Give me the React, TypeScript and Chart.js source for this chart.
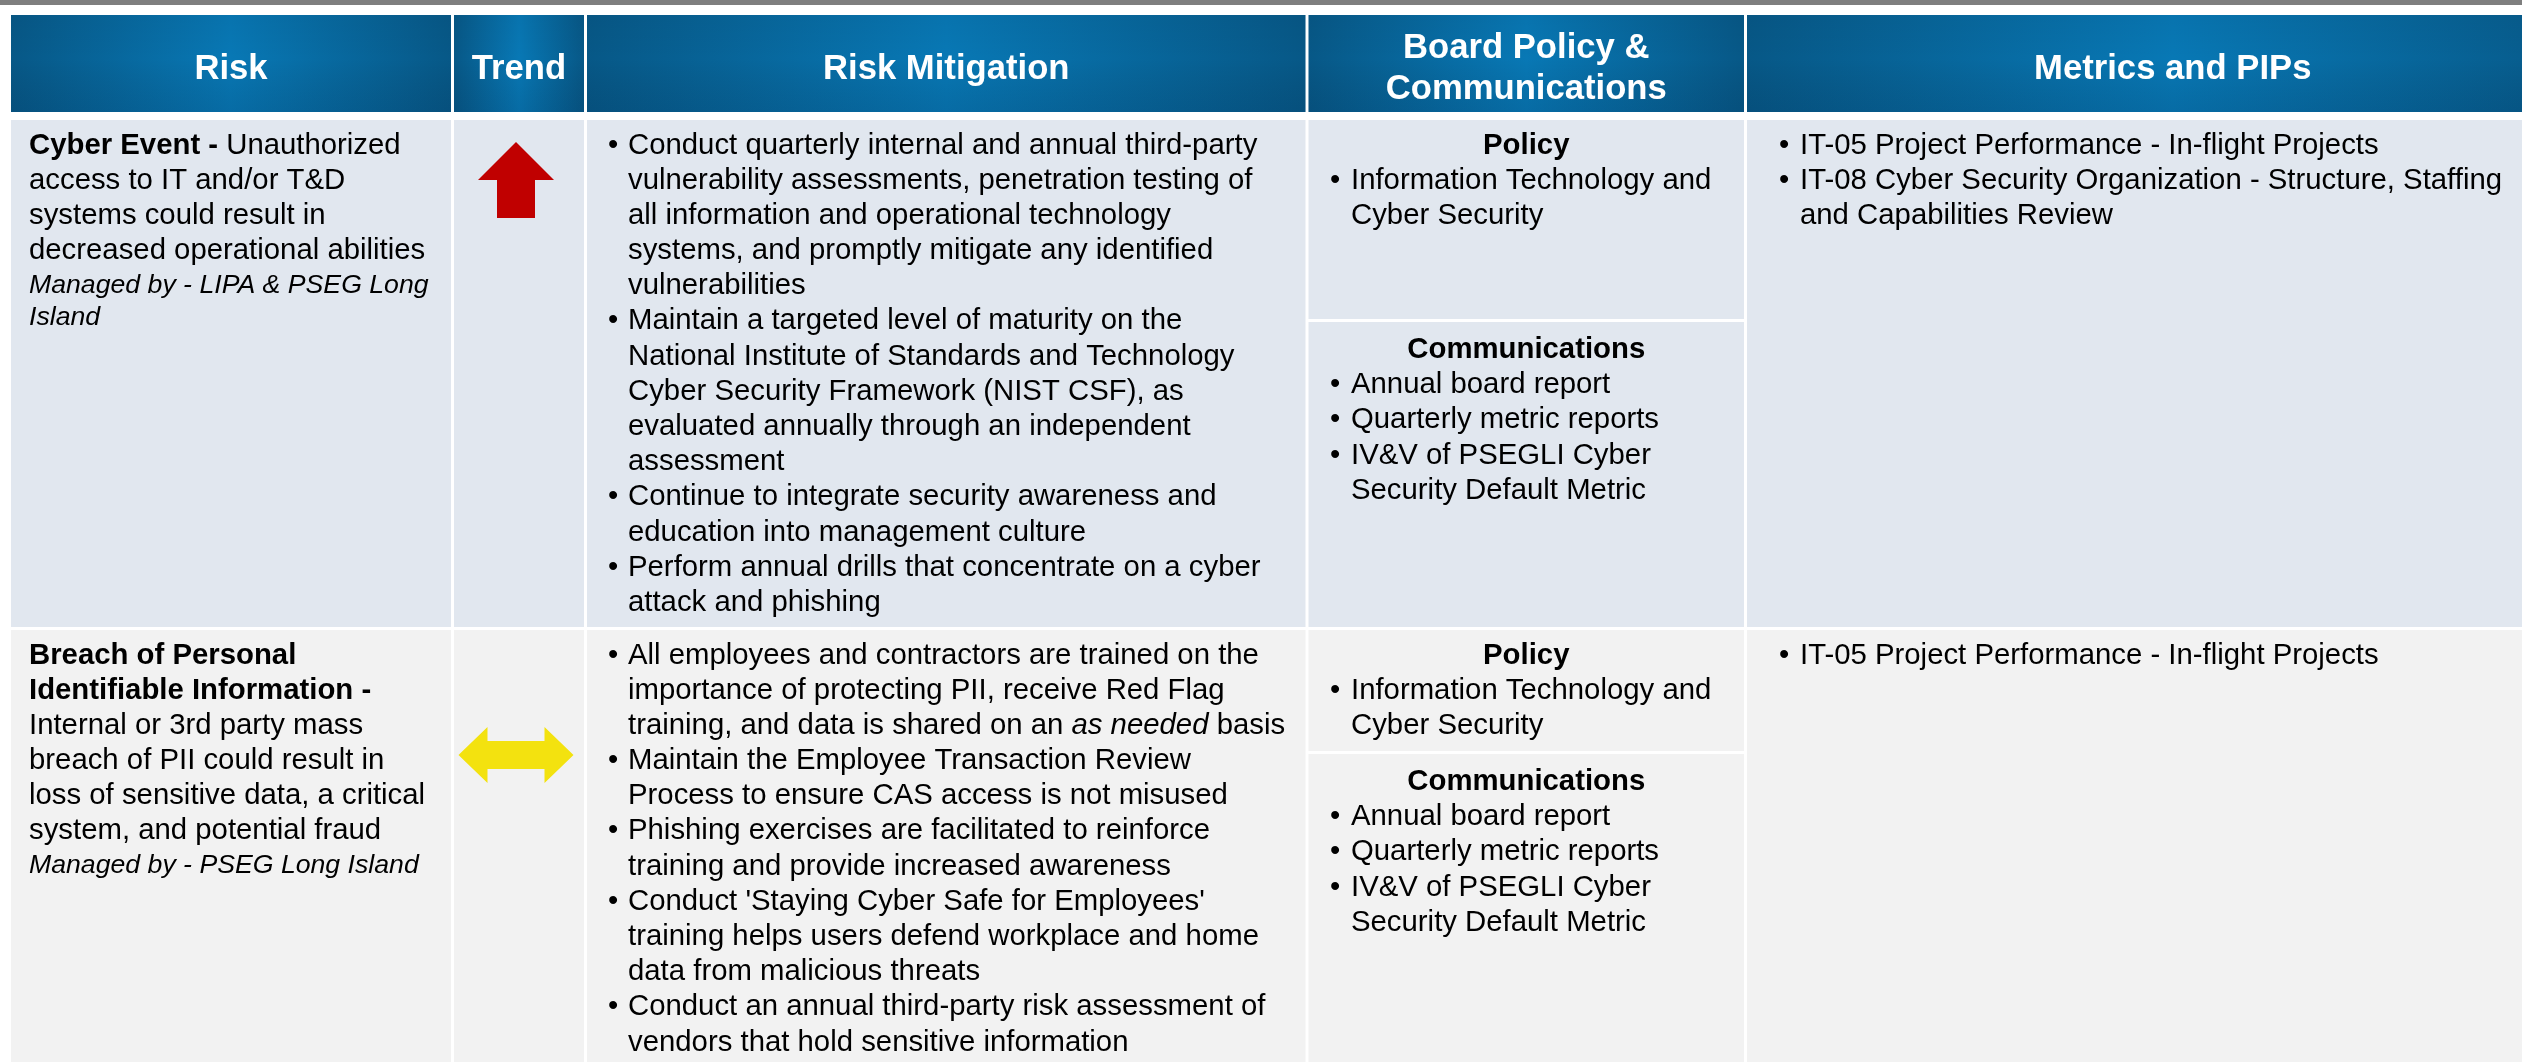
import React, { useEffect, useRef } from "react";
import { Chart, registerables } from "chart.js";

Chart.register(...registerables);

// ---------------- DATA ----------------
const columnHeaders = [
  "Risk",
  "Trend",
  "Risk Mitigation",
  "Board Policy &\nCommunications",
  "Metrics and PIPs",
];

// **bold**  _italic_  ~small~   (\n = line break as in the reference)
const riskTexts = [
  "**Cyber Event -** Unauthorized\naccess to IT and/or T&D\nsystems could result in\ndecreased operational abilities\n~_Managed by - LIPA & PSEG Long\nIsland_~",
  "**Breach of Personal\nIdentifiable Information -**\nInternal or 3rd party mass\nbreach of PII could result in\nloss of sensitive data, a critical\nsystem, and potential fraud\n~_Managed by - PSEG Long Island_~",
];

const trends = ["up", "steady"];

const mitigationsCyber = [
  "Conduct quarterly internal and annual third-party\nvulnerability assessments, penetration testing of\nall information and operational technology\nsystems, and promptly mitigate any identified\nvulnerabilities",
  "Maintain a targeted level of maturity on the\nNational Institute of Standards and Technology\nCyber Security Framework (NIST CSF), as\nevaluated annually through an independent\nassessment",
  "Continue to integrate security awareness and\neducation into management culture",
  "Perform annual drills that concentrate on a cyber\nattack and phishing",
];

const mitigationsPII = [
  "All employees and contractors are trained on the\nimportance of protecting PII, receive Red Flag\ntraining, and data is shared on an _as needed_ basis",
  "Maintain the Employee Transaction Review\nProcess to ensure CAS access is not misused",
  "Phishing exercises are facilitated to reinforce\ntraining and provide increased awareness",
  "Conduct 'Staying Cyber Safe for Employees'\ntraining helps users defend workplace and home\ndata from malicious threats",
  "Conduct an annual third-party risk assessment of\nvendors that hold sensitive information",
];

const policyHeading = "Policy";
const communicationsHeading = "Communications";
const policiesCyber = ["Information Technology and\nCyber Security"];
const policiesPII = ["Information Technology and\nCyber Security"];
const communicationsCyber = [
  "Annual board report",
  "Quarterly metric reports",
  "IV&V of PSEGLI Cyber\nSecurity Default Metric",
];
const communicationsPII = [
  "Annual board report",
  "Quarterly metric reports",
  "IV&V of PSEGLI Cyber\nSecurity Default Metric",
];

const metricsCyber = [
  "IT-05 Project Performance - In-flight Projects",
  "IT-08 Cyber Security Organization - Structure, Staffing\nand Capabilities Review",
];
const metricsPII = ["IT-05 Project Performance - In-flight Projects"];

const mitigationRows = [mitigationsCyber, mitigationsPII];
const policyRows = [policiesCyber, policiesPII];
const communicationRows = [communicationsCyber, communicationsPII];
const metricRows = [metricsCyber, metricsPII];

// ---------------- LAYOUT / STYLE ----------------
const PAGE_W = 2522;
const PAGE_H = 1062;
const FONT = '"Liberation Sans", Arial, sans-serif';
const BODY_PX = 29.33;
const SMALL_PX = 26.67;
const HEAD_PX = 34.67;
const HEAD_LINE_H = 41.6;
const SPACING = 1.2;
const GAP = 3;
const COL_EDGES = [11, 452.5, 585.5, 1307, 1745.5, 2600];
const HEADER_Y = [15, 112];
const ROW_Y = [
  [120, 627],
  [630, 1120],
];
const SPLIT_Y = [319, 751]; // top of white split line in Board Policy column
const FIRST_BASELINE = 33.5;
const SUB_BASELINE = 36;
const ROW_BG = ["#e1e7ef", "#f2f2f2"];

type Seg = { text: string; bold: boolean; italic: boolean; small: boolean };

function parseRich(text: string, baseBold = false): Seg[][] {
  const lines: Seg[][] = [];
  let bold = baseBold;
  let italic = false;
  let small = false;
  let cur: Seg[] = [];
  let buf = "";
  const flush = () => {
    if (buf) cur.push({ text: buf, bold, italic, small });
    buf = "";
  };
  for (let i = 0; i < text.length; i++) {
    const c = text[i];
    if (c === "*" && text[i + 1] === "*") {
      flush();
      bold = !bold;
      i++;
    } else if (c === "_") {
      flush();
      italic = !italic;
    } else if (c === "~") {
      flush();
      small = !small;
    } else if (c === "\n") {
      flush();
      lines.push(cur);
      cur = [];
    } else buf += c;
  }
  flush();
  lines.push(cur);
  return lines;
}

function fontOf(s: { bold: boolean; italic: boolean }, px: number) {
  return `${s.italic ? "italic " : ""}${s.bold ? "bold " : ""}${px}px ${FONT}`;
}

// draws lines; returns total vertical advance (in px) consumed
function drawRich(
  ctx: CanvasRenderingContext2D,
  text: string,
  x: number,
  y: number,
  px: number,
  align: "left" | "center" = "left",
  baseBold = false,
  smallPx = SMALL_PX
) {
  const lines = parseRich(text, baseBold);
  ctx.textAlign = "left";
  ctx.textBaseline = "alphabetic";
  let by = y;
  let prevSize = -1;
  let total = 0;
  lines.forEach((segs) => {
    const size = segs.length
      ? Math.max(...segs.map((s) => (s.small ? smallPx : px)))
      : px;
    if (prevSize > 0) {
      const adv = (SPACING * (prevSize + size)) / 2;
      by += adv;
      total += adv;
    }
    prevSize = size;
    let w = 0;
    segs.forEach((s) => {
      ctx.font = fontOf(s, s.small ? smallPx : px);
      w += ctx.measureText(s.text).width;
    });
    let cx = align === "center" ? x - w / 2 : x;
    segs.forEach((s) => {
      ctx.font = fontOf(s, s.small ? smallPx : px);
      ctx.fillText(s.text, cx, by);
      cx += ctx.measureText(s.text).width;
    });
  });
  return total + SPACING * prevSize;
}

const tablePlugin = {
  id: "riskTable",
  beforeDraw(chart: any) {
    const ctx: CanvasRenderingContext2D = chart.ctx;
    const xs = chart.scales.x;
    const ys = chart.scales.y;
    const X = (v: number) => xs.getPixelForValue(v);
    const Y = (v: number) => ys.getPixelForValue(v);

    ctx.save();
    ctx.fillStyle = "#ffffff";
    ctx.fillRect(X(0), Y(0), X(PAGE_W) - X(0), Y(PAGE_H) - Y(0));

    // top grey band
    ctx.fillStyle = "#7f7f7f";
    ctx.fillRect(X(0), Y(0), X(PAGE_W) - X(0), Y(5) - Y(0));

    const colL = (i: number) => COL_EDGES[i] + (i > 0 ? GAP / 2 : 0);
    const colR = (i: number) => COL_EDGES[i + 1] - GAP / 2;

    // header
    columnHeaders.forEach((h, i) => {
      const x0 = X(colL(i));
      const x1 = X(colR(i));
      const y0 = Y(HEADER_Y[0]);
      const y1 = Y(HEADER_Y[1]);
      const g = ctx.createLinearGradient(x0, 0, x1, 0);
      g.addColorStop(0, "#075887");
      g.addColorStop(0.5, "#0878b5");
      g.addColorStop(1, "#075887");
      ctx.fillStyle = g;
      ctx.fillRect(x0, y0, x1 - x0, y1 - y0);
      const gv = ctx.createLinearGradient(0, y0, 0, y1);
      gv.addColorStop(0, "rgba(0,0,0,0.04)");
      gv.addColorStop(0.45, "rgba(0,0,0,0)");
      gv.addColorStop(1, "rgba(0,20,50,0.12)");
      ctx.fillStyle = gv;
      ctx.fillRect(x0, y0, x1 - x0, y1 - y0);

      const n = h.split("\n").length;
      const mid = (HEADER_Y[0] + HEADER_Y[1]) / 2 + 15;
      ctx.fillStyle = "#ffffff";
      drawRich(
        ctx,
        h,
        (x0 + x1) / 2,
        Y(mid - ((n - 1) / 2) * HEAD_LINE_H),
        HEAD_PX,
        "center",
        true
      );
    });

    // rows
    ROW_Y.forEach(([top, bottom], r) => {
      for (let i = 0; i < 5; i++) {
        const x0 = X(colL(i));
        const x1 = X(colR(i));
        ctx.fillStyle = ROW_BG[r];
        if (i === 3) {
          ctx.fillRect(x0, Y(top), x1 - x0, Y(SPLIT_Y[r]) - Y(top));
          ctx.fillRect(x0, Y(SPLIT_Y[r] + GAP), x1 - x0, Y(bottom) - Y(SPLIT_Y[r] + GAP));
        } else {
          ctx.fillRect(x0, Y(top), x1 - x0, Y(bottom) - Y(top));
        }
      }

      ctx.fillStyle = "#000000";
      const base = top + FIRST_BASELINE;

      // Risk
      drawRich(ctx, riskTexts[r], X(29), Y(base), BODY_PX);

      // bullets helper
      const bullets = (items: string[], bx: number, tx: number, y0: number) => {
        let y = y0;
        items.forEach((it) => {
          ctx.fillStyle = "#000000";
          ctx.font = fontOf({ bold: false, italic: false }, BODY_PX);
          ctx.textAlign = "left";
          ctx.fillText("\u2022", X(bx), Y(y));
          const h = drawRich(ctx, it, X(tx), Y(y), BODY_PX);
          y += h;
        });
        return y;
      };

      // Mitigation
      bullets(mitigationRows[r], 608, 628, base);

      // Board policy & communications
      const c4 = (colL(3) + colR(3)) / 2;
      const LH = SPACING * BODY_PX;
      ctx.fillStyle = "#000000";
      drawRich(ctx, policyHeading, X(c4), Y(base), BODY_PX, "center", true);
      bullets(policyRows[r], 1330, 1351, base + LH);
      const cb = SPLIT_Y[r] + GAP + SUB_BASELINE;
      ctx.fillStyle = "#000000";
      drawRich(ctx, communicationsHeading, X(c4), Y(cb), BODY_PX, "center", true);
      bullets(communicationRows[r], 1330, 1351, cb + LH);

      // Metrics
      bullets(metricRows[r], 1779, 1800, base);

      // Trend icon
      const tcx = 516;
      if (trends[r] === "up") {
        const ty = top + 22;
        ctx.fillStyle = "#c00000";
        ctx.beginPath();
        ctx.moveTo(X(tcx), Y(ty));
        ctx.lineTo(X(tcx + 38), Y(ty + 38));
        ctx.lineTo(X(tcx + 19), Y(ty + 38));
        ctx.lineTo(X(tcx + 19), Y(ty + 76));
        ctx.lineTo(X(tcx - 19), Y(ty + 76));
        ctx.lineTo(X(tcx - 19), Y(ty + 38));
        ctx.lineTo(X(tcx - 38), Y(ty + 38));
        ctx.closePath();
        ctx.fill();
      } else {
        const cy = top + 125;
        const hw = 57.5;
        const hl = 29;
        const hh = 28;
        const sh = 14;
        ctx.fillStyle = "#f3e20f";
        ctx.beginPath();
        ctx.moveTo(X(tcx - hw), Y(cy));
        ctx.lineTo(X(tcx - hw + hl), Y(cy - hh));
        ctx.lineTo(X(tcx - hw + hl), Y(cy - sh));
        ctx.lineTo(X(tcx + hw - hl), Y(cy - sh));
        ctx.lineTo(X(tcx + hw - hl), Y(cy - hh));
        ctx.lineTo(X(tcx + hw), Y(cy));
        ctx.lineTo(X(tcx + hw - hl), Y(cy + hh));
        ctx.lineTo(X(tcx + hw - hl), Y(cy + sh));
        ctx.lineTo(X(tcx - hw + hl), Y(cy + sh));
        ctx.lineTo(X(tcx - hw + hl), Y(cy + hh));
        ctx.closePath();
        ctx.fill();
      }
    });

    ctx.restore();
  },
};

export default function App() {
  const ref = useRef<HTMLCanvasElement | null>(null);

  useEffect(() => {
    document.body.style.margin = "0";
    document.body.style.overflow = "hidden";
    if (!ref.current) return;
    const chart = new Chart(ref.current, {
      type: "scatter",
      data: { datasets: [] },
      options: {
        responsive: false,
        animation: false,
        events: [],
        layout: { padding: 0 },
        plugins: { legend: { display: false }, tooltip: { enabled: false } },
        scales: {
          x: { type: "linear", min: 0, max: PAGE_W, display: false },
          y: { type: "linear", min: 0, max: PAGE_H, reverse: true, display: false },
        },
      },
      plugins: [tablePlugin],
    });
    return () => chart.destroy();
  }, []);

  return (
    <div style={{ width: PAGE_W, height: PAGE_H, overflow: "hidden" }}>
      <canvas ref={ref} width={PAGE_W} height={PAGE_H} style={{ display: "block" }} />
    </div>
  );
}
